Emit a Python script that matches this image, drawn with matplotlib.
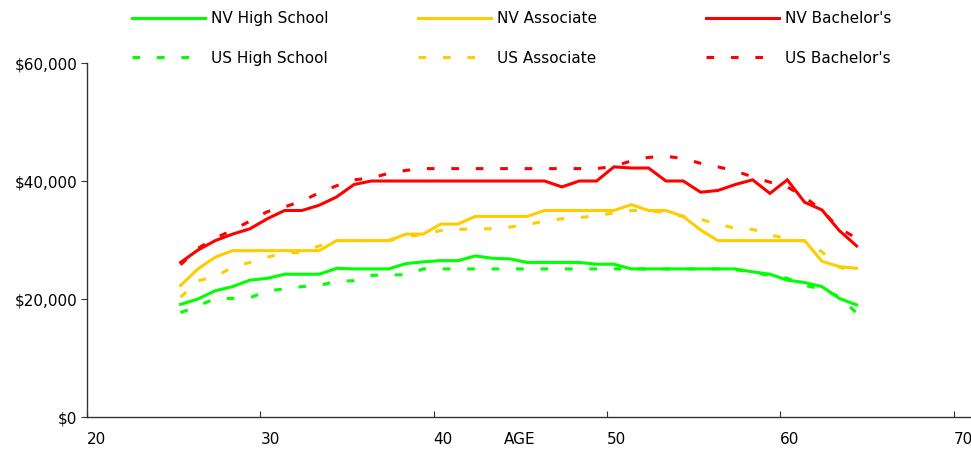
import numpy as np
import matplotlib.pyplot as plt
from matplotlib.ticker import FuncFormatter

# ages 25..64 (Excel draws them slightly right of the integer tick)
ages = np.arange(25, 65)
age_shift = 0.4

nv_hs = [19100, 20000, 21400, 22100, 23200, 23500, 24200, 24200, 24200, 25200,
         25100, 25100, 25100, 26000, 26300, 26500, 26500, 27300, 26900, 26800,
         26200, 26200, 26200, 26200, 25900, 25900, 25100, 25100, 25100, 25100,
         25100, 25100, 25100, 24600, 24200, 23200, 22800, 22100, 20100, 19000]
us_hs = [17700, 18800, 20100, 20100, 20200, 21400, 21700, 22100, 22300, 23000,
         23100, 24000, 24100, 24100, 25100, 25100, 25100, 25100, 25100, 25100,
         25100, 25100, 25100, 25100, 25100, 25100, 25100, 25100, 25100, 25100,
         25100, 25100, 25000, 24500, 24000, 23500, 22300, 21700, 20400, 17600]
nv_assoc = [22300, 25100, 27100, 28200, 28200, 28200, 28200, 28200, 28200, 29900,
            29900, 29900, 29900, 31000, 31000, 32700, 32700, 34000, 34000, 34000,
            34000, 35000, 35000, 35000, 35000, 35000, 36000, 35000, 35000, 34000,
            31700, 29900, 29900, 29900, 29900, 29900, 29900, 26400, 25500, 25200]
us_assoc = [20300, 23100, 23800, 25400, 26200, 27100, 27800, 27900, 29000, 29900,
            29900, 29900, 29900, 30500, 31000, 31600, 31800, 31900, 31900, 32200,
            32600, 33200, 33600, 33800, 34100, 34600, 35000, 35000, 34600, 34000,
            33500, 32700, 32000, 31800, 30900, 30200, 29800, 28000, 25400, 24600]
nv_bach = [26200, 28300, 29900, 31000, 31900, 33600, 35000, 35000, 35900, 37300,
           39400, 40000, 40000, 40000, 40000, 40000, 40000, 40000, 40000, 40000,
           40000, 40000, 39000, 40000, 40000, 42400, 42200, 42200, 40000, 40000,
           38100, 38400, 39400, 40200, 37900, 40200, 36400, 35100, 31600, 29000]
us_bach = [25800, 28600, 30300, 31700, 33200, 34800, 35600, 36600, 38000, 39200,
           40200, 40500, 41300, 41800, 42100, 42100, 42100, 42100, 42100, 42100,
           42100, 42100, 42100, 42100, 42100, 42500, 43400, 44000, 44200, 43800,
           43000, 42400, 41700, 40700, 39800, 39000, 37300, 35000, 32000, 30300]

green = '#00ff00'
gold = '#ffcc00'
red = '#ff0000'

plt.rcParams['font.family'] = ['DejaVu Sans']
fig = plt.figure(figsize=(9.71, 4.5), dpi=100)
ax = fig.add_axes([0.0896, 0.0733, 1 - 0.0896, 0.86 - 0.0733])

x = ages + age_shift
lw = 2.2
dash = (2.5, 5.5)
series = [
    (nv_hs, green, 'NV High School', '-'),
    (us_hs, green, 'US High School', '--'),
    (nv_assoc, gold, 'NV Associate', '-'),
    (us_assoc, gold, 'US Associate', '--'),
    (nv_bach, red, "NV Bachelor's", '-'),
    (us_bach, red, "US Bachelor's", '--'),
]
handles = []
for vals, col, lab, ls in series:
    if ls == '--':
        h, = ax.plot(x, vals, color=col, lw=lw, label=lab,
                     dashes=dash, dash_capstyle='butt')
    else:
        h, = ax.plot(x, vals, color=col, lw=lw, label=lab,
                     solid_joinstyle='miter')
    handles.append(h)

ax.set_xlim(20, 71)
ax.set_ylim(0, 60000)
ax.set_xticks([20, 30, 40, 50, 60, 70])
ax.set_yticks([0, 20000, 40000, 60000])
ax.yaxis.set_major_formatter(FuncFormatter(lambda v, p: '${:,.0f}'.format(v)))
for s in ['top', 'right']:
    ax.spines[s].set_visible(False)
for s in ['left', 'bottom']:
    ax.spines[s].set_color('#333333')
    ax.spines[s].set_linewidth(1.0)
ax.tick_params(axis='x', direction='in', length=4, pad=11, labelsize=11, color='#333333')
ax.tick_params(axis='y', direction='out', length=4, pad=3, labelsize=11, color='#333333')
for t in ax.get_xticklabels():
    t.set_horizontalalignment('left')
ax.set_xlabel('AGE', fontsize=11)
ax.xaxis.set_label_coords(0.49, -0.042)

# one legend per column, like the original layout
col_x = [132 / 971, 418 / 971, 706 / 971]
for i, cx in enumerate(col_x):
    leg = fig.legend(handles=handles[2 * i:2 * i + 2], loc='upper left',
                     bbox_to_anchor=(cx, 1 - 11 / 450), frameon=False, fontsize=11,
                     handlelength=4.8, handletextpad=0.35, labelspacing=1.62,
                     borderpad=0, borderaxespad=0)

plt.savefig('out.png', dpi=100)
